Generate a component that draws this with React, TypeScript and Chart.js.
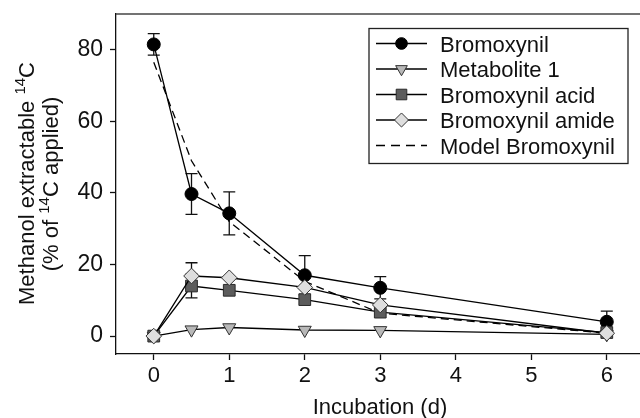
import React, { useEffect, useRef } from "react";
import { Chart, registerables } from "chart.js";
import { drawPoint } from "chart.js/helpers";

Chart.register(...registerables);

// ---- data ----
const DAYS = [0, 0.5, 1, 2, 3, 6];
const BROMOXYNIL = [81.5, 39.7, 34.3, 17.0, 13.5, 4.0];
const BROMOXYNIL_ERR = [3.0, 5.7, 6.0, 5.5, 3.1, 3.0];
const METABOLITE_1 = [0, 1.8, 2.4, 1.7, 1.6, 0.5];
const BROMOXYNIL_ACID = [0, 14.0, 12.8, 10.2, 6.7, 1.0];
const BROMOXYNIL_ACID_ERR = [0, 3.3, 0, 0, 0, 0];
const BROMOXYNIL_AMIDE = [0, 16.8, 16.3, 13.6, 8.7, 0.8];
const BROMOXYNIL_AMIDE_ERR = [0, 3.7, 0, 0, 0, 0];
const MODEL_BROMOXYNIL = [76.5, 49.0, 32.0, 15.3, 6.4, 0.8];

const X_TICKS = [0, 1, 2, 3, 4, 5, 6];
const Y_TICKS = [0, 20, 40, 60, 80];

const NAMES = [
  "Bromoxynil",
  "Metabolite 1",
  "Bromoxynil acid",
  "Bromoxynil amide",
  "Model Bromoxynil",
];
const X_TITLE = "Incubation (d)";
const Y_TITLE_1 = [
  { t: "Methanol extractable ", sup: false },
  { t: "14", sup: true },
  { t: "C", sup: false },
];
const Y_TITLE_2 = [
  { t: "(% of ", sup: false },
  { t: "14", sup: true },
  { t: "C applied)", sup: false },
];

const FONT = "'Liberation Sans', Arial, Helvetica, sans-serif";
const INK = "#111";

type Style = {
  pointStyle: any;
  radius: number;
  rotation: number;
  fill: string;
  stroke: string;
};

const STYLES: Style[] = [
  { pointStyle: "circle", radius: 6.5, rotation: 0, fill: "#000", stroke: "#000" },
  { pointStyle: "triangle", radius: 7.5, rotation: 180, fill: "#b8b8b8", stroke: "#333" },
  { pointStyle: "rect", radius: 8.3, rotation: 0, fill: "#5c5c5c", stroke: "#2a2a2a" },
  { pointStyle: "rectRot", radius: 7.8, rotation: 0, fill: "#dedede", stroke: "#333" },
];

const pts = (ys: number[]) => DAYS.map((x, i) => ({ x, y: ys[i] }));

function seriesDataset(label: string, ys: number[], s: Style) {
  return {
    label,
    data: pts(ys),
    showLine: true,
    borderColor: "#000",
    borderWidth: 1.3,
    pointStyle: s.pointStyle,
    pointRadius: s.radius,
    pointRotation: s.rotation,
    pointBackgroundColor: s.fill,
    pointBorderColor: s.stroke,
    pointBorderWidth: 1,
    pointHoverRadius: s.radius,
    clip: false,
  };
}

const errorBars = {
  id: "errorBars",
  beforeDatasetsDraw(chart: any) {
    const { ctx } = chart;
    const xs = chart.scales.x;
    const ys = chart.scales.y;
    const sets = [
      [BROMOXYNIL, BROMOXYNIL_ERR],
      [BROMOXYNIL_ACID, BROMOXYNIL_ACID_ERR],
      [BROMOXYNIL_AMIDE, BROMOXYNIL_AMIDE_ERR],
    ];
    ctx.save();
    ctx.strokeStyle = INK;
    ctx.lineWidth = 1.3;
    for (const [vals, errs] of sets) {
      DAYS.forEach((d, i) => {
        const e = errs[i];
        if (!e) return;
        const x = xs.getPixelForValue(d);
        const yT = ys.getPixelForValue(vals[i] + e);
        const yB = ys.getPixelForValue(vals[i] - e);
        ctx.beginPath();
        ctx.moveTo(x, yT);
        ctx.lineTo(x, yB);
        ctx.moveTo(x - 6, yT);
        ctx.lineTo(x + 6, yT);
        ctx.moveTo(x - 6, yB);
        ctx.lineTo(x + 6, yB);
        ctx.stroke();
      });
    }
    ctx.restore();
  },
};

function drawParts(ctx: CanvasRenderingContext2D, parts: { t: string; sup: boolean }[], size: number) {
  const supSize = Math.round(size * 0.68);
  let total = 0;
  const widths = parts.map((p) => {
    ctx.font = `${p.sup ? supSize : size}px ${FONT}`;
    const w = ctx.measureText(p.t).width;
    total += w;
    return w;
  });
  let x = -total / 2;
  parts.forEach((p, i) => {
    ctx.font = `${p.sup ? supSize : size}px ${FONT}`;
    ctx.fillText(p.t, x, p.sup ? -size * 0.38 : 0);
    x += widths[i];
  });
}

const decorations = {
  id: "decorations",
  afterDraw(chart: any) {
    const { ctx, chartArea } = chart;
    ctx.save();
    // top frame line
    ctx.strokeStyle = "#444";
    ctx.lineWidth = 1.6;
    ctx.beginPath();
    ctx.moveTo(chartArea.left, chartArea.top);
    ctx.lineTo(chartArea.right, chartArea.top);
    ctx.stroke();

    ctx.fillStyle = INK;
    ctx.textAlign = "left";
    ctx.textBaseline = "alphabetic";

    // x title
    ctx.font = `22px ${FONT}`;
    ctx.textAlign = "center";
    ctx.fillText(X_TITLE, 380, 414);
    ctx.textAlign = "left";

    // y title (two lines, rotated)
    ctx.save();
    ctx.translate(33.5, 183.5);
    ctx.rotate(-Math.PI / 2);
    drawParts(ctx, Y_TITLE_1, 22);
    ctx.restore();
    ctx.save();
    ctx.translate(57.5, 184);
    ctx.rotate(-Math.PI / 2);
    drawParts(ctx, Y_TITLE_2, 22);
    ctx.restore();

    // legend
    const bx = 369, by = 28.5, bw = 259, bh = 135;
    ctx.strokeStyle = "#222";
    ctx.lineWidth = 1.3;
    ctx.strokeRect(bx, by, bw, bh);
    const rows = [43.5, 69, 94.5, 120, 145.5];
    NAMES.forEach((name, i) => {
      const y = rows[i];
      ctx.save();
      ctx.strokeStyle = "#000";
      ctx.lineWidth = 1.3;
      if (i === 4) ctx.setLineDash([9, 6]);
      ctx.beginPath();
      ctx.moveTo(376, y);
      ctx.lineTo(427, y);
      ctx.stroke();
      ctx.restore();
      if (i < 4) {
        const s = STYLES[i];
        ctx.save();
        ctx.fillStyle = s.fill;
        ctx.strokeStyle = s.stroke;
        ctx.lineWidth = 1;
        drawPoint(
          ctx,
          { pointStyle: s.pointStyle, rotation: s.rotation, radius: s.radius * 0.9, borderWidth: 1 } as any,
          401.5,
          y
        );
        ctx.restore();
      }
      ctx.fillStyle = INK;
      ctx.font = `22px ${FONT}`;
      ctx.fillText(name, 440, y + 8);
    });
    ctx.restore();
  },
};

const zeroPadding = (s: any) => {
  s.paddingLeft = 0;
  s.paddingRight = 0;
  s.paddingTop = 0;
  s.paddingBottom = 0;
};

export default function App() {
  const ref = useRef<HTMLCanvasElement | null>(null);

  useEffect(() => {
    const canvas = ref.current;
    if (!canvas) return;
    const axisCommon = {
      grid: {
        drawOnChartArea: false,
        drawTicks: true,
        tickLength: 6,
        tickColor: INK,
        tickWidth: 1.3,
      },
      border: { display: true, color: INK, width: 1.3 },
    };
    const chart = new Chart(canvas, {
      type: "scatter",
      data: {
        datasets: [
          seriesDataset(NAMES[3], BROMOXYNIL_AMIDE, STYLES[3]),
          seriesDataset(NAMES[2], BROMOXYNIL_ACID, STYLES[2]),
          seriesDataset(NAMES[1], METABOLITE_1, STYLES[1]),
          seriesDataset(NAMES[0], BROMOXYNIL, STYLES[0]),
          {
            label: NAMES[4],
            data: pts(MODEL_BROMOXYNIL),
            showLine: true,
            borderColor: "#000",
            borderWidth: 1.3,
            borderDash: [8, 5],
            pointRadius: 0,
            pointHoverRadius: 0,
          },
        ] as any,
      },
      options: {
        responsive: false,
        animation: false,
        events: [],
        layout: { autoPadding: false, padding: { top: 14, left: 0, right: 0, bottom: 0 } },
        plugins: { legend: { display: false }, tooltip: { enabled: false } },
        scales: {
          x: {
            type: "linear",
            min: -0.5,
            max: 6.44,
            afterBuildTicks: (s: any) => {
              s.ticks = X_TICKS.map((v) => ({ value: v }));
            },
            afterFit: (s: any) => {
              s.height = 64;
              zeroPadding(s);
            },
            ticks: {
              font: { family: FONT, size: 22 },
              color: INK,
              padding: 3,
              maxRotation: 0,
              autoSkip: false,
            },
            ...axisCommon,
          },
          y: {
            type: "linear",
            min: -5,
            max: 90,
            afterBuildTicks: (s: any) => {
              s.ticks = Y_TICKS.map((v) => ({ value: v }));
            },
            afterFit: (s: any) => {
              s.width = 116;
              zeroPadding(s);
            },
            ticks: {
              font: { family: FONT, size: 23 },
              color: INK,
              padding: 7,
              autoSkip: false,
            },
            ...axisCommon,
          },
        },
      } as any,
      plugins: [errorBars, decorations],
    });
    return () => chart.destroy();
  }, []);

  return (
    <div style={{ position: "absolute", left: 0, top: 0, width: 640, height: 418 }}>
      <canvas ref={ref} width={640} height={418} style={{ display: "block" }} />
    </div>
  );
}
